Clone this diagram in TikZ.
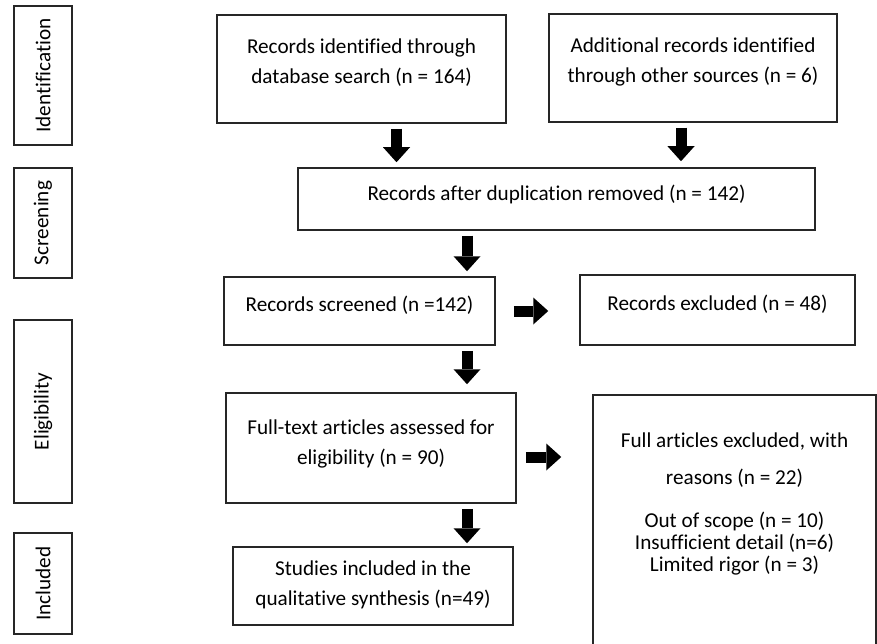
\documentclass[tikz,border=0pt]{standalone}
\usepackage{fontspec}
\setmainfont{Carlito}[Ligatures=NoCommon]
\usetikzlibrary{positioning, arrows.meta}

\tikzset{
    box/.style={draw=black!85, line width=1.5pt, rectangle, align=center,
        font=\fontsize{21.2}{30}\selectfont, inner sep=0pt},
    stagebox/.style={box, rotate=90, minimum height=58pt},
    blockarrow/.style={line width=11pt, -{Triangle[length=15pt, width=27pt, line width=0pt]}}
}

\begin{document}
\begin{tikzpicture}[x=1pt, y=-1pt]
        \useasboundingbox (0,0) rectangle (877,644);
        \clip (0,0) rectangle (877,644);

        \node[stagebox, minimum width=139pt] (ident) at (43,75.5) {Identification};
        \node[stagebox, minimum width=110pt] (screen) at (43,223) {Screening};
        \node[stagebox, minimum width=183pt] (elig) at (43,411.5) {Eligibility};
        \node[stagebox, minimum width=101pt] (incl) at (43,583.5) {Included};

        \node[box, minimum width=289pt, minimum height=108pt, text depth=16pt] (db) at (361.5,69) {Records identified through\\database search (n = 164)};
        \node[box, minimum width=288pt, minimum height=108pt, text depth=16pt] (other) at (693,68) {Additional records identified\\through other sources (n = 6)};
        \node[box, minimum width=517pt, minimum height=62pt, text depth=12pt] (dup) at (556.5,199) {Records after duplication removed (n = 142)};
        \node[box, minimum width=271pt, minimum height=68pt, text depth=14pt] (scr) at (359.5,311) {Records screened (n =142)};
        \node[box, minimum width=275pt, minimum height=70pt, text depth=14pt] (excl) at (717.5,310) {Records excluded (n = 48)};
        \node[box, minimum width=290pt, minimum height=110pt, text depth=12pt] (full) at (371,448) {Full-text articles assessed for\\eligibility (n = 90)};
        \node[box, minimum width=280pt, minimum height=78pt, text depth=6pt] (studies) at (373,586) {Studies included in the\\qualitative synthesis (n=49)};
        \node[box, minimum width=283pt, minimum height=265pt, text depth=51pt] (reasons) at (734.5,527.5) {Full articles excluded, with\\[7pt]reasons (n = 22)\\[13pt]Out of scope (n = 10)\\[-8pt]Insufficient detail (n=6)\\[-8pt]Limited rigor (n = 3)};

        \coordinate (spine) at (467,0);
        \coordinate (dbout) at ([xshift=35pt]db.south);
        \coordinate (otherout) at ([xshift=-12pt]other.south);
        \coordinate (fullout) at ([yshift=-9pt]full.east);

        \draw[blockarrow, shorten <=5pt, shorten >=5pt] (dbout) -- (dbout |- dup.north);
        \draw[blockarrow, shorten <=5pt, shorten >=6pt] (otherout) -- (otherout |- dup.north);
        \draw[blockarrow, shorten <=5pt, shorten >=5pt] (dup.south -| spine) -- (scr.north -| spine);
        \draw[blockarrow, shorten <=18pt, shorten >=31pt] (scr.east) -- (scr.east -| excl.west);
        \draw[blockarrow, shorten <=5pt, shorten >=8pt] (scr.south -| spine) -- (full.north -| spine);
        \draw[blockarrow, shorten <=9pt, shorten >=31pt] (fullout) -- (fullout -| reasons.west);
        \draw[blockarrow, shorten <=5pt, shorten >=3pt] (full.south -| spine) -- (studies.north -| spine);
    \end{tikzpicture}
\end{document}
